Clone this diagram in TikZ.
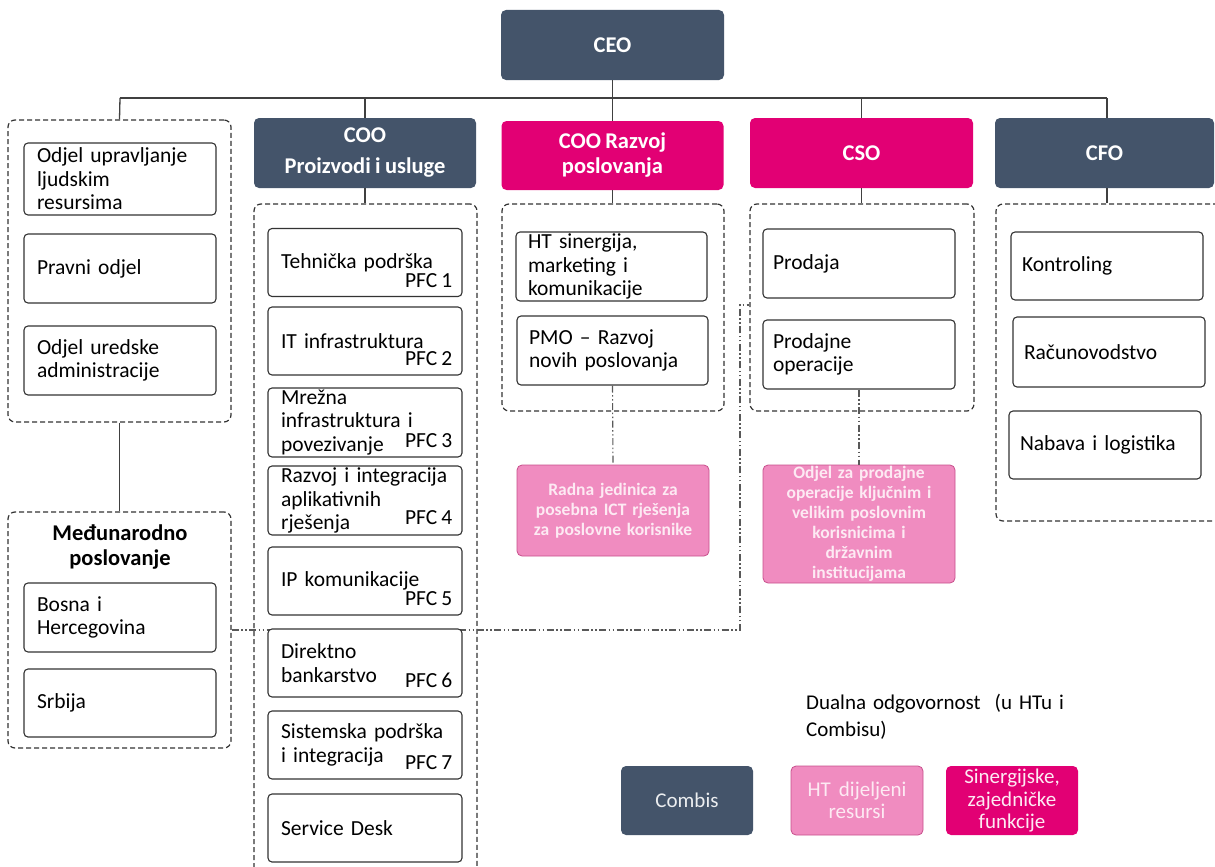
\documentclass[tikz,border=0pt]{standalone}
\usepackage{fontspec}
\setmainfont{Carlito}[WordSpace=0.85]
\definecolor{slate}{HTML}{44546A}
\definecolor{mag}{HTML}{E20074}
\definecolor{lpink}{HTML}{F08CC0}
\definecolor{pinkline}{HTML}{C8508C}
\definecolor{pinktext}{HTML}{FDEAF3}
\tikzset{
  hdr/.style={rounded corners=5pt, minimum width=222pt, minimum height=70pt, text=white,
    font=\fontsize{22.5}{25}\selectfont\bfseries, align=center, inner sep=0pt},
  ibox/.style={draw=black!80, line width=1.1pt, rounded corners=4pt, fill=white,
    minimum height=69pt, text width=166pt, inner xsep=13pt, inner ysep=0pt, align=left,
    font=\fontsize{21.5}{23.5}\selectfont},
  pfc/.style={anchor=base east, inner sep=0pt, font=\fontsize{21.5}{23.5}\selectfont},
  grp/.style={draw=black!80, line width=1.2pt, dash pattern=on 5pt off 3pt,
    rounded corners=7pt, inner sep=0pt},
  conn/.style={draw=black!75, line width=1.3pt},
  ddot/.style={draw=black!65, line width=1.1pt,
    dash pattern=on 7pt off 2.5pt on 1.5pt off 2.5pt on 1.5pt off 2.5pt},
  pbox/.style={draw=pinkline, line width=0.8pt, fill=lpink, rounded corners=5pt,
    minimum width=192pt, text width=188pt, inner xsep=2pt, inner ysep=0pt, align=center,
    text=pinktext, font=\fontsize{17.5}{20}\selectfont\bfseries},
  lbox/.style={rounded corners=5pt, minimum width=132pt, minimum height=69pt,
    inner sep=0pt, align=center, font=\fontsize{21}{22.5}\selectfont}
}
\begin{document}
\begin{tikzpicture}[x=1pt,y=-1pt]
\clip (0,0) rectangle (1215,867);
\fill[white] (0,0) rectangle (1215,867);

% headers
\node[hdr, fill=slate, minimum width=223pt] (ceo) at (612.5,45) {CEO};
\node[hdr, fill=slate, font=\fontsize{22.5}{31}\selectfont\bfseries] (coo1) at (365,153) {COO\\Proizvodi i usluge};
\node[hdr, fill=mag, minimum height=69pt] (coo2) at (612.5,155.5) {COO Razvoj\\poslovanja};
\node[hdr, fill=mag, minimum width=223pt] (cso) at (861.5,153) {CSO};
\node[hdr, fill=slate, minimum width=219pt] (cfo) at (1104.5,153) {CFO};

% groups
\node[grp, minimum width=223pt, minimum height=302pt] (g1) at (119.5,271) {};
\node[grp, minimum width=223pt, minimum height=236pt] (gm) at (119.5,630) {};
\node[grp, minimum width=223pt, minimum height=676pt] (gcoo) at (365.5,542) {};
\node[grp, minimum width=222pt, minimum height=207pt] (grz) at (613,307.5) {};
\node[grp, minimum width=224pt, minimum height=207pt] (gcso) at (862,307.5) {};
\node[grp, minimum width=229pt, minimum height=317pt] (gcfo) at (1110.5,362.5) {};

% dash-dot link (behind the boxes)
\coordinate (dd1) at (740,630);
\coordinate (dd2) at (740,305);
\draw[ddot] (gm.east) -- (dd1) -- (dd2) -- (dd2 -| gcso.west);

% bus
\coordinate (busL) at (120,98);
\coordinate (busR) at (1107,98);
\draw[conn] (ceo.south) -- (ceo.south |- busL);
\draw[conn] (busL) -- (busR);
\draw[conn] (busL) -- (g1.north);
\draw[conn] (coo1.north) -- (coo1.north |- busL);
\draw[conn] (coo2.north) -- (coo2.north |- busL);
\draw[conn] (cso.north) -- (cso.north |- busL);
\draw[conn] (busR) -- (busR |- cfo.north);
\draw[conn] (coo1.south) -- (coo1.south |- gcoo.north);
\draw[conn] (coo2.south) -- (coo2.south |- grz.north);
\draw[conn] (cso.south) -- (cso.south |- gcso.north);
\draw[conn] (busR |- cfo.south) -- (busR |- gcfo.north);
\draw[conn] (g1.south) -- (gm.north);

% left group
\node[ibox, minimum height=72pt] (hr) at (120,179) {Odjel upravljanje\\ljudskim\\resursima};
\node[ibox] (pr) at (120,268.5) {Pravni odjel};
\node[ibox] (ur) at (120,360.5) {Odjel uredske\\administracije};

% international
\node[inner sep=0pt, align=center, font=\fontsize{22.5}{25}\selectfont\bfseries] (gmt) at (120,547.5) {Međunarodno\\poslovanje};
\node[ibox] (bih) at (120,617.5) {Bosna i\\Hercegovina};
\node[ibox, minimum height=68pt] (srb) at (120,703) {Srbija};

% COO products group
\tikzset{cbox/.style={ibox, text width=168pt, inner xsep=13pt, minimum height=68pt}}
\node[cbox] (c1) at (365,262.5) {Tehnička podrška};
\node[pfc] (p1) at ([shift={(-10,-10)}]c1.south east) {PFC 1};
\node[cbox] (c2) at (365,341) {IT infrastruktura};
\node[pfc] (p2) at ([shift={(-10,-10)}]c2.south east) {PFC 2};
\node[cbox, minimum height=69pt] (c3) at (365,422.5) {Mrežna\\infrastruktura i\\povezivanje};
\node[pfc] (p3) at ([shift={(-10,-10)}]c3.south east) {PFC 3};
\node[cbox, minimum height=69pt] (c4) at (365,500.5) {Razvoj i integracija\\aplikativnih\\rješenja};
\node[pfc] (p4) at ([shift={(-10,-11)}]c4.south east) {PFC 4};
\node[cbox] (c5) at (365,581) {IP komunikacije};
\node[pfc] (p5) at ([shift={(-10,-10)}]c5.south east) {PFC 5};
\node[cbox] (c6) at (365,663) {Direktno\\bankarstvo};
\node[pfc] (p6) at ([shift={(-10,-10)}]c6.south east) {PFC 6};
\node[cbox] (c7) at (365,745) {Sistemska podrška\\i integracija};
\node[pfc] (p7) at ([shift={(-10,-10)}]c7.south east) {PFC 7};
\node[cbox] (c8) at (365,828) {Service Desk};

% COO development group
\node[ibox, text width=167pt, inner xsep=12pt] (hts) at (611.5,266.5) {HT sinergija,\\marketing i\\komunikacije};
\node[ibox, text width=167pt, inner xsep=12pt] (pmo) at (612.5,350.5) {PMO – Razvoj\\novih poslovanja};
\node[pbox, minimum height=91pt] (rj) at (613,510.5) {Radna jedinica za\\posebna ICT rješenja\\za poslovne korisnike};
\draw[ddot] (pmo.south) -- (rj.north);

% CSO group
\node[ibox, text width=172pt, inner xsep=10pt] (prod) at (859,263.5) {Prodaja};
\node[ibox, text width=172pt, inner xsep=10pt] (prop) at (859,354.5) {Prodajne\\operacije};
\node[pbox, minimum height=118pt] (op) at (859,524) {Odjel za prodajne\\operacije ključnim i\\velikim poslovnim\\korisnicima i\\državnim\\institucijama};
\draw[ddot] (prop.south) -- (op.north);

% CFO group
\node[ibox, text width=170pt, inner xsep=11pt, minimum height=68pt] (kon) at (1107,266) {Kontroling};
\node[ibox, text width=170pt, inner xsep=11pt, minimum height=70pt] (rac) at (1109,352) {Računovodstvo};
\node[ibox, text width=170pt, inner xsep=11pt, minimum height=68pt] (nab) at (1105,445) {Nabava i logistika};

% legend
\node[anchor=west, inner sep=0pt, text width=280pt, align=left, font=\fontsize{21}{27}\selectfont] (leg) at (806,716.5) {Dualna odgovornost\ \ (u HTu i\\Combisu)};
\node[lbox, fill=slate, text=white!90!slate] (lc) at (687,800.5) {Combis};
\node[lbox, fill=lpink, draw=pinkline, line width=0.8pt, text=pinktext] (lh) at (857,800.5) {HT\ \ dijeljeni\\resursi};
\node[lbox, fill=mag, text=pinktext] (ls) at (1012,800.5) {Sinergijske,\\zajedničke\\funkcije};
\end{tikzpicture}
\end{document}
